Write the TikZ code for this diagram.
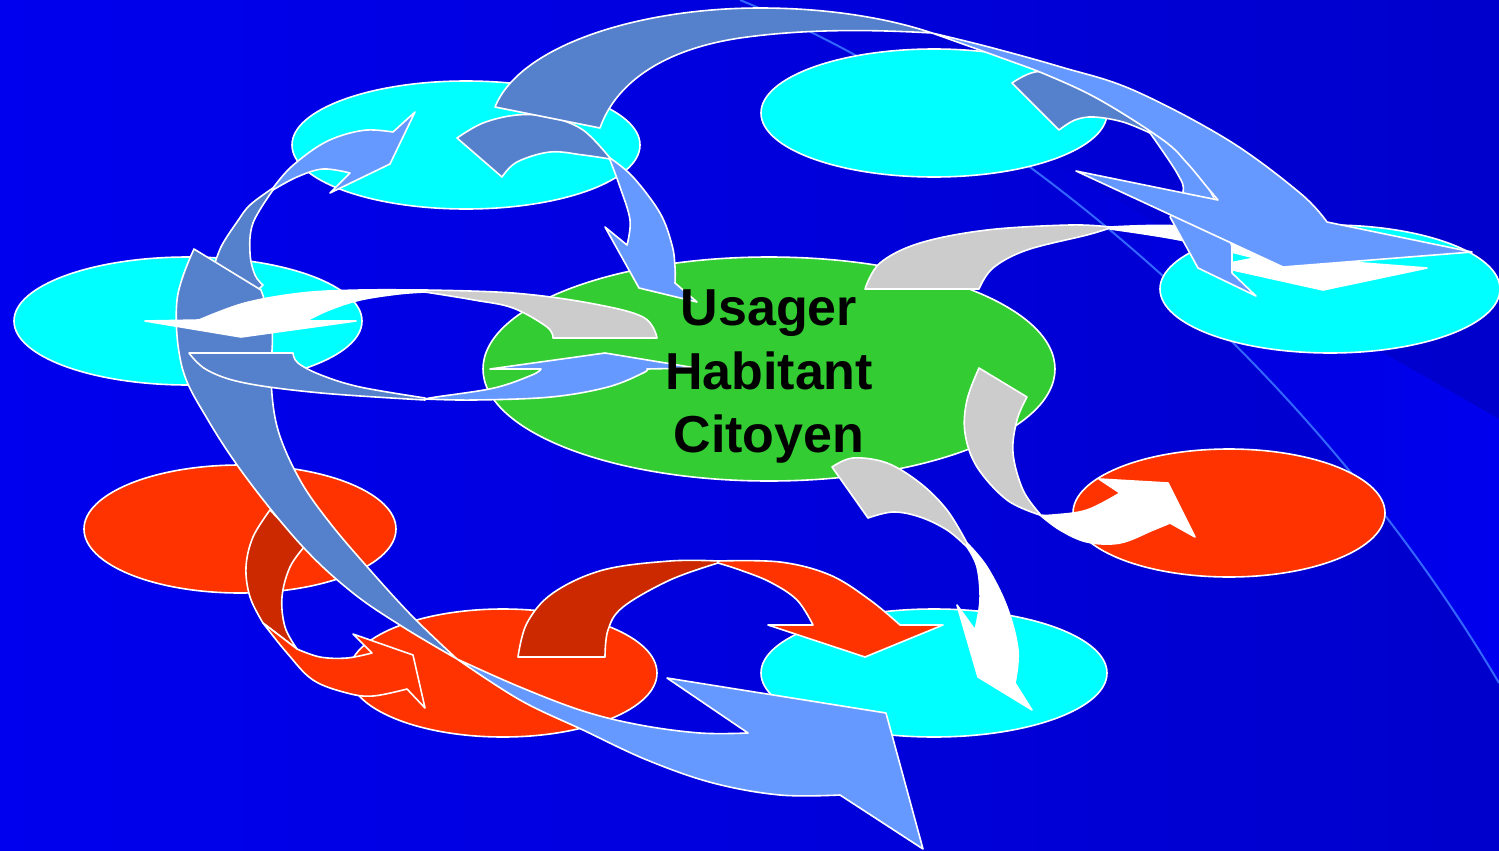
\documentclass[tikz,border=0pt]{standalone}
\usepackage{fontspec}
\setmainfont{Liberation Sans}
\usetikzlibrary{shapes.geometric}
\definecolor{bgL}{RGB}{0,0,238}
\definecolor{bgR}{RGB}{0,0,204}
\definecolor{bgM}{RGB}{0,0,212}
\definecolor{lineblue}{RGB}{51,102,255}
\definecolor{cyanc}{RGB}{0,255,255}
\definecolor{greenc}{RGB}{51,204,51}
\definecolor{redc}{RGB}{255,51,0}
\definecolor{darkredc}{RGB}{204,41,0}
\definecolor{steelc}{RGB}{85,128,204}
\definecolor{lightc}{RGB}{102,153,255}
\definecolor{grayc}{RGB}{204,204,204}
\tikzset{
  ell/.style={ellipse, draw=white, line width=0.8pt, inner sep=0pt, outer sep=0pt},
  arr/.style={draw=white, line width=0.8pt, line join=round},
  sm/.style={smooth, tension=0.6},
  lbl/.style={font=\bfseries\fontsize{26}{31}\selectfont, text=black, anchor=base, inner sep=0pt}
}
\begin{document}
\begin{tikzpicture}[x=0.5pt, y=-0.5pt]
\useasboundingbox (0,0) rectangle (1499,851);
\clip (0,0) rectangle (1499,851);
% background
\shade[left color=bgL, right color=bgR] (0,0) rectangle (1499,851);
\begin{scope}
  \clip (740,0) .. controls (1020,115) and (1320,380) .. (1499,683) -- (1499,0) -- cycle;
  \shade[left color=bgM, right color=bgL] (1499,419) -- (950,105) -- (950,900) -- (1499,900) -- cycle;
\end{scope}
\draw[lineblue, line width=1pt] (740,0) .. controls (1020,115) and (1320,380) .. (1499,683);
% ellipses
\node[ell, fill=cyanc, minimum width=174pt, minimum height=64pt] (e1) at (466,145) {};
\node[ell, fill=cyanc, minimum width=173pt, minimum height=64pt] (e2) at (934,113) {};
\node[ell, fill=cyanc, minimum width=174pt, minimum height=64pt] (e3) at (188,321) {};
\node[ell, fill=greenc, minimum width=286pt, minimum height=112pt] (e4) at (769,369) {};
\node[ell, fill=cyanc, minimum width=170pt, minimum height=64pt] (e5) at (1330,289) {};
\node[ell, fill=redc, minimum width=156pt, minimum height=64pt] (e6) at (240,529) {};
\node[ell, fill=redc, minimum width=156pt, minimum height=64pt] (e7) at (1229,513) {};
\node[ell, fill=redc, minimum width=154pt, minimum height=64pt] (e8) at (503,673) {};
\node[ell, fill=cyanc, minimum width=173pt, minimum height=64pt] (e9) at (934,673) {};
% D: left cyan -> top-left cyan
\filldraw[arr, fill=steelc] (273,188) -- plot[sm] coordinates {(273,188) (250,205) (237,222) (222,245) (215,263)} -- (225,295) -- (258,290) -- (263,285) -- plot[sm] coordinates {(263,285) (255,275) (250,253) (253,223) (273,190)} -- cycle;
\filldraw[arr, fill=lightc] (273,188) -- plot[sm] coordinates {(273,188) (290,168) (317,147) (340,136) (367,130) (393,132)} -- (415,112) -- (390,164) -- (330,193) -- (350,173) -- plot[sm] coordinates {(350,173) (323,169) (297,177) (273,190)} -- cycle;
% J: red left -> red bottom
\filldraw[arr, fill=darkredc] (270,510) -- plot[sm] coordinates {(270,510) (253,537) (246,567) (250,597) (263,623)} -- (297,649) -- plot[sm] coordinates {(297,649) (285,627) (282,597) (290,567) (305,546)} -- cycle;
\filldraw[arr, fill=redc] (263,623) -- plot[sm] coordinates {(263,623) (287,653) (313,680) (347,693) (373,696) (407,689)} -- (425,708) -- (413,655) -- (353,634) -- (372,653) -- plot[sm] coordinates {(372,653) (347,658) (320,657) (297,649)} -- cycle;
% E: big arrow left cyan -> bottom
\filldraw[arr, fill=steelc] (194,249) -- (261,290) -- plot[sm] coordinates {(261,290) (272,330) (271,380) (278,430) (300,480) (330,523) (370,570) (413,617) (457,659)} -- plot[sm] coordinates {(457,659) (403,627) (353,593) (303,547) (248,480) (208,420) (182,367) (177,300) (194,249)} -- cycle;
\filldraw[arr, fill=lightc] (457,659) -- plot[sm] coordinates {(457,659) (520,687) (583,711) (640,725) (700,733) (748,733)} -- (667,678) -- (886,713) -- (923,849) -- (840,795) -- plot[sm] coordinates {(840,795) (780,795) (713,783) (647,760) (583,730) (520,700) (457,659)} -- cycle;
% G: left cyan -> green
\filldraw[arr, fill=steelc] (189,353) -- (293,353) -- plot[sm] coordinates {(293,353) (298,363) (321,375) (360,387) (425,398)} -- plot[sm] coordinates {(425,400) (321,393) (245,383) (207,370) (189,353)} -- cycle;
\filldraw[arr, fill=lightc] (425,399) -- plot[sm] coordinates {(425,399) (474,400) (551,397) (608,387) (643,373) (647,369)} -- (696,368) -- (605,353) -- (490,369) -- (541,369) -- plot[sm] coordinates {(541,369) (532,375) (494,388) (436,397) (425,399)} -- cycle;
% F: green -> left cyan
\filldraw[arr, fill=grayc] (553,338) -- (657,338) -- plot[sm] coordinates {(657,338) (643,317) (589,303) (513,293) (425,290)} -- plot[sm] coordinates {(425,292) (474,300) (513,308) (547,327) (553,338)} -- cycle;
\filldraw[arr, fill=white] (425,290) -- plot[sm] coordinates {(425,290) (360,290) (302,293) (245,303) (199,320)} -- (145,321) -- (241,337) -- (356,321) -- (306,321) -- plot[sm] coordinates {(306,321) (329,310) (360,300) (398,294) (425,292)} -- cycle;
% H: top-left cyan -> green
\filldraw[arr, fill=steelc] (457,138) -- plot[sm] coordinates {(457,138) (483,123) (517,115) (550,117) (583,130) (610,158)} -- plot[sm] coordinates {(610,159) (583,155) (550,152) (517,162) (502,177)} -- cycle;
\filldraw[arr, fill=lightc] (610,158) -- plot[sm] coordinates {(610,158) (633,177) (660,213) (672,245) (675,267) (675,283)} -- (697,302) -- (639,288) -- (605,227) -- (627,245) -- plot[sm] coordinates {(627,245) (630,220) (620,187) (610,160)} -- cycle;
% K: red bottom -> cyan bottom
\filldraw[arr, fill=darkredc] (518,657) -- plot[sm] coordinates {(518,657) (527,623) (553,593) (603,570) (670,561) (718,561)} -- plot[sm] coordinates {(718,563) (670,580) (623,607) (608,630) (605,657)} -- cycle;
\filldraw[arr, fill=redc] (718,561) -- plot[sm] coordinates {(718,561) (780,562) (830,575) (870,600) (900,625)} -- (943,625) -- (865,657) -- (768,625) -- (813,625) -- plot[sm] coordinates {(813,625) (797,600) (770,582) (740,570) (718,563)} -- cycle;
% L: green -> cyan bottom
\filldraw[arr, fill=grayc] (832,467) -- plot[sm] coordinates {(832,467) (853,458) (887,463) (920,483) (947,510) (967,543)} -- plot[sm] coordinates {(967,547) (947,530) (920,517) (893,512) (868,518)} -- cycle;
\filldraw[arr, fill=white] (967,543) -- plot[sm] coordinates {(967,543) (987,567) (1007,607) (1018,650) (1015,683)} -- (1032,710) -- (978,677) -- (957,605) -- (975,630) -- plot[sm] coordinates {(975,630) (980,600) (977,567) (967,547)} -- cycle;
% M: green -> red right
\filldraw[arr, fill=grayc] (979,368) -- plot[sm] coordinates {(979,368) (967,400) (965,433) (977,467) (1007,500) (1040,515)} -- plot[sm] coordinates {(1040,514) (1023,490) (1013,453) (1017,420) (1027,397)} -- cycle;
\filldraw[arr, fill=white] (1040,515) -- plot[sm] coordinates {(1040,515) (1060,530) (1087,542) (1120,543) (1153,530) (1170,523)} -- (1195,537) -- (1168,483) -- (1099,479) -- (1120,493) -- plot[sm] coordinates {(1120,493) (1087,510) (1053,515) (1040,515)} -- cycle;
% C: green -> right cyan
\filldraw[arr, fill=grayc] (865,289) -- plot[sm] coordinates {(865,289) (880,263) (920,243) (987,230) (1070,225) (1110,227)} -- plot[sm] coordinates {(1110,228) (1087,235) (1027,250) (993,268) (979,289)} -- cycle;
\filldraw[arr, fill=white] (1110,227) -- plot[sm] coordinates {(1110,227) (1180,226) (1250,238) (1363,263)} -- (1427,268) -- (1323,290) -- (1215,266) -- (1255,258) -- plot[sm] coordinates {(1255,258) (1180,240) (1110,229)} -- cycle;
% B: top-right cyan -> right cyan
\filldraw[arr, fill=steelc] (1012,83) -- plot[sm] coordinates {(1012,83) (1035,72) (1070,73) (1110,90) (1140,113)} -- (1150,133) -- plot[sm] coordinates {(1150,133) (1123,122) (1094,117) (1075,120) (1059,130)} -- cycle;
\filldraw[arr, fill=lightc] (1140,113) -- plot[sm] coordinates {(1140,113) (1185,155) (1215,200) (1232,247)} -- (1232,273) -- (1256,296) -- (1198,268) -- (1170,217) -- plot[sm] coordinates {(1170,217) (1183,192) (1177,173) (1150,133)} -- cycle;
% A: top-left cyan -> right cyan (big arc)
\filldraw[arr, fill=steelc] (495,107) .. controls (520,45) and (640,8) .. (760,8) .. controls (840,8) and (900,22) .. (932,33) .. controls (880,30) and (810,28) .. (740,38) .. controls (660,50) and (615,85) .. (600,128) -- cycle;
\filldraw[arr, fill=lightc] (932,33) -- plot[sm] coordinates {(932,33) (989,47) (1061,67) (1133,90) (1228,140) (1300,193) (1327,222)} -- (1472,252) -- (1283,267) -- (1076,171) -- (1218,200) -- plot[sm] coordinates {(1218,200) (1207,187) (1187,163) (1163,140) (1100,100) (1047,75) (999,57) (932,33)} -- cycle;
% text
\node[lbl] (t1) at (769,325) {Usager};
\node[lbl] (t2) at (769,389) {Habitant};
\node[lbl] (t3) at (769,452) {Citoyen};
\end{tikzpicture}
\end{document}
